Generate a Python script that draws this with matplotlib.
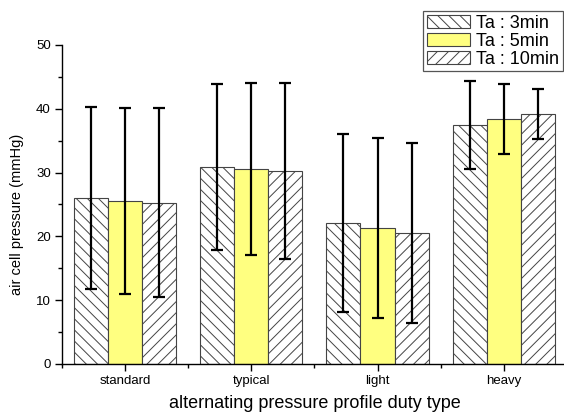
import matplotlib
matplotlib.use("Agg")
import matplotlib.pyplot as plt
import numpy as np
from matplotlib.ticker import MultipleLocator

plt.rcParams['font.family'] = ['Liberation Sans', 'DejaVu Sans']
plt.rcParams['hatch.linewidth'] = 0.7

duty_types = ['standard', 'typical', 'light', 'heavy']
series_names = ['Ta : 3min', 'Ta : 5min', 'Ta : 10min']

# mean air cell pressure (mmHg) per duty type
mean_3min = [26.0, 30.9, 22.1, 37.5]
mean_5min = [25.5, 30.6, 21.3, 38.4]
mean_10min = [25.3, 30.3, 20.6, 39.2]

# standard deviations
sd_3min = [14.3, 13.0, 14.0, 6.9]
sd_5min = [14.6, 13.5, 14.1, 5.5]
sd_10min = [14.8, 13.8, 14.1, 3.9]

means = [mean_3min, mean_5min, mean_10min]
sds = [sd_3min, sd_5min, sd_10min]
fills = ['white', '#ffff80', 'white']
hatches = ['\\\\\\', '', '///']

fig = plt.figure(figsize=(5.64, 4.16), dpi=100)
ax = fig.add_axes([0.110, 0.125, 0.895, 0.767])

x = np.arange(len(duty_types))
w = 0.27
for i in range(3):
    pos = x + (i - 1) * w
    ax.bar(pos, means[i], width=w, color=fills[i], hatch=hatches[i],
           edgecolor='#444444', linewidth=0.8, label=series_names[i], zorder=2)
    ax.errorbar(pos, means[i], yerr=sds[i], fmt='none', ecolor='black',
                elinewidth=1.6, capsize=4, capthick=1.6, zorder=3)

ax.set_xlim(-0.5, 3.5)
ax.set_ylim(0, 50)
ax.set_xticks(x)
ax.set_xticklabels(duty_types)
ax.set_xticks(np.arange(-0.5, 3.6, 1), minor=True)
ax.yaxis.set_major_locator(MultipleLocator(10))
ax.yaxis.set_minor_locator(MultipleLocator(5))
ax.tick_params(which='major', length=5, width=1, labelsize=9.5, pad=3)
ax.tick_params(which='minor', length=3, width=1)
ax.spines['top'].set_visible(False)
ax.spines['right'].set_visible(False)
ax.spines['left'].set_linewidth(1)
ax.spines['bottom'].set_linewidth(1)

ax.set_xlabel('alternating pressure profile duty type', fontsize=13, labelpad=6)
ax.set_ylabel('air cell pressure (mmHg)', fontsize=10.5)
ax.yaxis.set_label_coords(-0.075, 0.47)

leg = fig.legend(loc='upper right', bbox_to_anchor=(0.998, 0.973),
                 fontsize=13, fancybox=False, framealpha=1, edgecolor='#555555',
                 handlelength=2.4, handleheight=0.75, borderpad=0.2,
                 labelspacing=0.05, handletextpad=0.35, borderaxespad=0)
leg.get_frame().set_linewidth(0.9)

fig.savefig('out.png', dpi=100)
